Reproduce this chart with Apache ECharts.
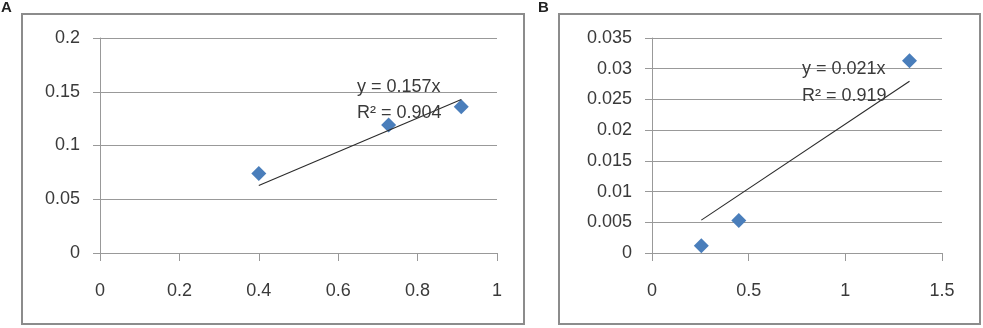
<!DOCTYPE html>
<html>
<head>
<meta charset="utf-8">
<script src="https://cdn.jsdelivr.net/npm/echarts@6/dist/echarts.min.js"></script>
<style>
  html, body { margin: 0; padding: 0; background: #fff; }
  #chart { width: 983px; height: 328px; }
</style>
</head>
<body>
<div id="chart"></div>
<script>
// Panel A: measured points and fitted slope through the origin
const pointsA = [[0.40, 0.074], [0.727, 0.119], [0.91, 0.136]];
const slopeA = 0.157;
const r2A = 0.904;
const xTicksA = { min: 0, max: 1, interval: 0.2 };
const yTicksA = { min: 0, max: 0.2, interval: 0.05 };

// Panel B
const pointsB = [[0.255, 0.0012], [0.449, 0.0053], [1.332, 0.0313]];
const slopeB = 0.021;
const r2B = 0.919;
const xTicksB = { min: 0, max: 1.5, interval: 0.5 };
const yTicksB = { min: 0, max: 0.035, interval: 0.005 };

const FONT = 'Liberation Sans';
const TEXT = '#3a3a3a';
const GRID_LINE = '#999999';
const MARKER = '#4A7EBB';

// Trendline spans the range of the measured x values
function trendLine(points, slope) {
  const xs = points.map(p => p[0]);
  const lo = Math.min(...xs), hi = Math.max(...xs);
  return [[lo, slope * lo], [hi, slope * hi]];
}

function xAxisFor(idx, ticks) {
  return {
    type: 'value', gridIndex: idx,
    min: ticks.min, max: ticks.max, interval: ticks.interval,
    axisLine: { show: true, onZero: false, lineStyle: { color: GRID_LINE, width: 1 } },
    axisTick: { show: true, inside: false, length: 8, lineStyle: { color: GRID_LINE } },
    axisLabel: { color: TEXT, fontFamily: FONT, fontSize: 18, margin: 29 },
    splitLine: { show: false }
  };
}
function yAxisFor(idx, ticks) {
  return {
    type: 'value', gridIndex: idx,
    min: ticks.min, max: ticks.max, interval: ticks.interval,
    axisLine: { show: true, onZero: false, lineStyle: { color: GRID_LINE, width: 1 } },
    axisTick: { show: true, inside: false, length: 7, lineStyle: { color: GRID_LINE } },
    axisLabel: { color: TEXT, fontFamily: FONT, fontSize: 18, margin: 20 },
    splitLine: { show: true, lineStyle: { color: GRID_LINE, width: 1 } }
  };
}
function scatterFor(idx, points) {
  return {
    type: 'scatter', xAxisIndex: idx, yAxisIndex: idx,
    data: points, symbol: 'diamond', symbolSize: [15, 15],
    itemStyle: { color: MARKER, opacity: 1 }, z: 3
  };
}
function trendFor(idx, points, slope) {
  return {
    type: 'line', xAxisIndex: idx, yAxisIndex: idx,
    data: trendLine(points, slope), symbol: 'none',
    lineStyle: { color: '#2a2a2a', width: 1.1 }, z: 4, silent: true
  };
}

const chart = echarts.init(document.getElementById('chart'), null, { renderer: 'canvas' });

const labelStyle = { fill: TEXT, font: '18px "' + FONT + '"' };

chart.setOption({
  animation: false,
  backgroundColor: '#fff',
  grid: [
    { left: 100, right: 486, top: 38, bottom: 75 },
    { left: 652, right: 41, top: 38, bottom: 75 }
  ],
  xAxis: [xAxisFor(0, xTicksA), xAxisFor(1, xTicksB)],
  yAxis: [yAxisFor(0, yTicksA), yAxisFor(1, yTicksB)],
  series: [
    scatterFor(0, pointsA), trendFor(0, pointsA, slopeA),
    scatterFor(1, pointsB), trendFor(1, pointsB, slopeB)
  ],
  graphic: [
    { type: 'rect', shape: { x: 22, y: 14, width: 502, height: 310 },
      style: { fill: 'none', stroke: '#8c8c8c', lineWidth: 2 }, z: -1 },
    { type: 'rect', shape: { x: 559, y: 14, width: 421, height: 310 },
      style: { fill: 'none', stroke: '#8c8c8c', lineWidth: 2 }, z: -1 },
    { type: 'text', left: 1, top: 0, style: { text: 'A', fill: '#222', font: 'bold 15px "' + FONT + '"' } },
    { type: 'text', left: 538, top: 0, style: { text: 'B', fill: '#222', font: 'bold 15px "' + FONT + '"' } },
    { type: 'text', left: 357, top: 78, z: 10, style: Object.assign({ text: 'y = ' + slopeA + 'x' }, labelStyle) },
    { type: 'text', left: 357, top: 104, z: 10, style: Object.assign({ text: 'R² = ' + r2A }, labelStyle) },
    { type: 'text', left: 802, top: 60, z: 10, style: Object.assign({ text: 'y = ' + slopeB + 'x' }, labelStyle) },
    { type: 'text', left: 802, top: 87, z: 10, style: Object.assign({ text: 'R² = ' + r2B }, labelStyle) }
  ]
});
</script>
</body>
</html>
